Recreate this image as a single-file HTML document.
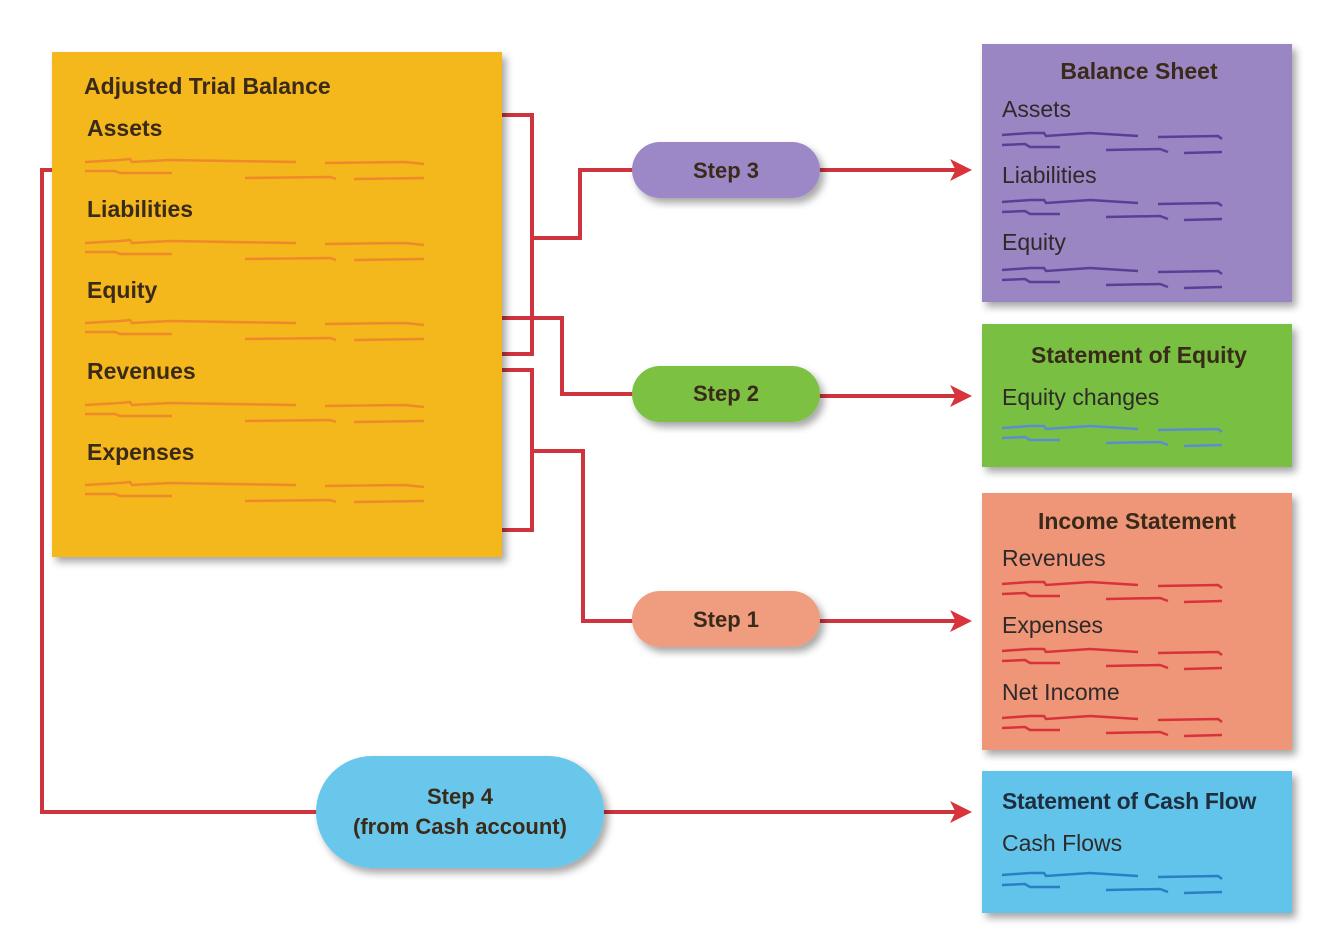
<!DOCTYPE html>
<html><head><meta charset="utf-8"><style>
html,body{margin:0;padding:0;background:#fff}
svg{display:block}
text{font-family:"Liberation Sans",sans-serif}
.h{font-weight:bold;fill:#3a2a1a}
.r{fill:#2e2a2a}
</style></head><body>
<svg width="1334" height="932" viewBox="0 0 1334 932" xmlns="http://www.w3.org/2000/svg">
<defs>
<filter id="sh" x="-10%" y="-10%" width="130%" height="130%"><feDropShadow dx="4" dy="5" stdDeviation="4" flood-color="#000" flood-opacity="0.35"/></filter>
<path id="sL" fill="none" stroke-width="2.5" d="M85 2 L120 0 L130 -1 L132 2 L170 0 L230 1 L296 2 M325 3 L405 2 L424 4 M85 11 L115 11 L120 13 L172 13 M245 18 L330 17 L336 19 M354 19 L424 18"/>
<path id="sR" fill="none" stroke-width="2.5" d="M1002 2 L1030 0 L1044 0 L1046 3 L1090 0 L1138 3 M1158 4 L1218 3 L1222 6 M1002 12 L1025 11 L1030 14 L1060 14 M1106 17 L1160 16 L1168 19 M1184 20 L1222 19"/>
<marker id="ar" markerWidth="5.5" markerHeight="5.5" refX="4" refY="2.75" orient="auto" markerUnits="strokeWidth"><path d="M0 0 L5.5 2.75 L0 5.5 L1.4 2.75 Z" fill="#d9333c"/></marker>
</defs>

<g stroke="#cf343e" stroke-width="4" fill="none">
<polyline points="500,115 532,115 532,354 500,354"/>
<polyline points="532,238 580,238 580,170 634,170"/>
<polyline points="500,318 562,318 562,394 634,394"/>
<polyline points="500,370 532,370 532,530 500,530"/>
<polyline points="532,451 583,451 583,621 634,621"/>
<polyline points="54,170 42,170 42,812 320,812"/>
<line x1="818" y1="170" x2="966" y2="170" marker-end="url(#ar)"/>
<line x1="818" y1="396" x2="966" y2="396" marker-end="url(#ar)"/>
<line x1="818" y1="621" x2="966" y2="621" marker-end="url(#ar)"/>
<line x1="602" y1="812" x2="966" y2="812" marker-end="url(#ar)"/>
</g>

<rect x="52" y="52" width="450" height="505" fill="#f4b71f" filter="url(#sh)"/>
<text x="84" y="94" font-size="23" class="h">Adjusted Trial Balance</text>
<text x="87" y="136" font-size="23" class="h">Assets</text>
<text x="87" y="217" font-size="23" class="h">Liabilities</text>
<text x="87" y="298" font-size="23" class="h">Equity</text>
<text x="87" y="379" font-size="23" class="h">Revenues</text>
<text x="87" y="460" font-size="23" class="h">Expenses</text>
<g stroke="#ee8a2a">
<use href="#sL" y="160"/><use href="#sL" y="241"/><use href="#sL" y="321"/><use href="#sL" y="403"/><use href="#sL" y="483"/>
</g>

<rect x="632" y="142" width="188" height="56" rx="28" fill="#9d88c7" filter="url(#sh)"/>
<text x="726" y="178" font-size="22" class="h" text-anchor="middle">Step 3</text>
<rect x="632" y="366" width="188" height="56" rx="28" fill="#7cc142" filter="url(#sh)"/>
<text x="726" y="401" font-size="22" class="h" text-anchor="middle">Step 2</text>
<rect x="632" y="591" width="188" height="56" rx="28" fill="#ef9c7f" filter="url(#sh)"/>
<text x="726" y="627" font-size="22" class="h" text-anchor="middle">Step 1</text>
<rect x="316" y="756" width="288" height="112" rx="56" fill="#69c7eb" filter="url(#sh)"/>
<text x="460" y="804" font-size="22" class="h" text-anchor="middle">Step 4</text>
<text x="460" y="834" font-size="22" class="h" text-anchor="middle">(from Cash account)</text>

<rect x="982" y="44" width="310" height="258" fill="#9a86c3" filter="url(#sh)"/>
<text x="1139" y="79" font-size="23" class="h" text-anchor="middle">Balance Sheet</text>
<text x="1002" y="117" font-size="23" class="r">Assets</text>
<text x="1002" y="183" font-size="23" class="r">Liabilities</text>
<text x="1002" y="250" font-size="23" class="r">Equity</text>
<g stroke="#5a3f96"><use href="#sR" y="133"/><use href="#sR" y="200"/><use href="#sR" y="268"/></g>

<rect x="982" y="324" width="310" height="143" fill="#79c043" filter="url(#sh)"/>
<text x="1139" y="363" font-size="23" class="h" text-anchor="middle">Statement of Equity</text>
<text x="1002" y="405" font-size="23" class="r">Equity changes</text>
<g stroke="#5a8ed0"><use href="#sR" y="426"/></g>

<rect x="982" y="493" width="310" height="257" fill="#ef9578" filter="url(#sh)"/>
<text x="1137" y="529" font-size="23" class="h" text-anchor="middle">Income Statement</text>
<text x="1002" y="566" font-size="23" class="r">Revenues</text>
<text x="1002" y="633" font-size="23" class="r">Expenses</text>
<text x="1002" y="700" font-size="23" class="r">Net Income</text>
<g stroke="#d8333a"><use href="#sR" y="582"/><use href="#sR" y="649"/><use href="#sR" y="716"/></g>

<rect x="982" y="771" width="310" height="142" fill="#62c4eb" filter="url(#sh)"/>
<text x="1002" y="809" font-size="23" class="h" style="fill:#1e2e3e" letter-spacing="-0.3">Statement of Cash Flow</text>
<text x="1002" y="851" font-size="23" class="r">Cash Flows</text>
<g stroke="#2a7fc4"><use href="#sR" y="873"/></g>
</svg>
</body></html>
